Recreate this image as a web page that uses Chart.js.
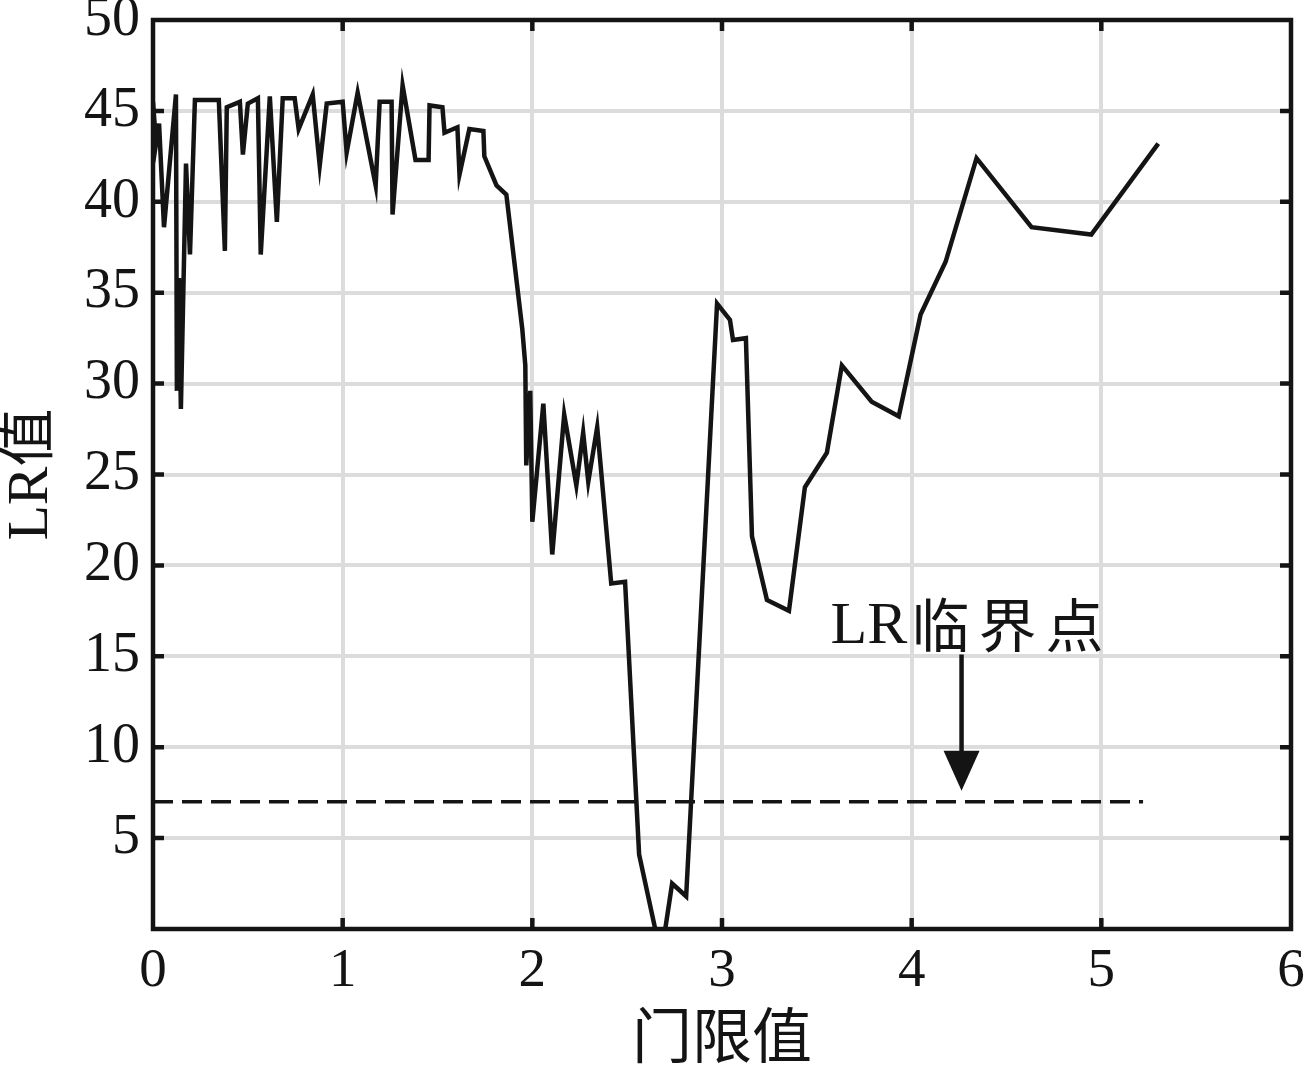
<!DOCTYPE html>
<html><head><meta charset="utf-8">
<script src="https://cdn.jsdelivr.net/npm/chart.js@4.4.1/dist/chart.umd.min.js"></script>
<style>html,body{margin:0;padding:0;background:#fff;}</style>
</head><body>
<canvas id="c" width="1310" height="1065"></canvas>
<script>
// threshold (门限值) values
const thresholds = [0.000,0.016,0.032,0.058,0.121,0.126,0.137,0.147,0.174,0.195,0.221,0.347,0.379,0.389,0.458,0.474,0.500,0.553,0.568,0.616,0.653,0.684,0.747,0.768,0.842,0.879,0.916,1.000,1.021,1.079,1.174,1.195,1.258,1.263,1.316,1.384,1.453,1.458,1.526,1.537,1.605,1.616,1.668,1.742,1.747,1.811,1.863,1.947,1.963,1.968,1.989,2.000,2.058,2.105,2.168,2.232,2.268,2.295,2.342,2.416,2.489,2.563,2.679,2.737,2.811,2.974,3.042,3.058,3.126,3.158,3.237,3.353,3.437,3.553,3.632,3.789,3.932,4.047,4.179,4.342,4.632,4.947,5.300];
// LR values
const lrValues = [45.5,43.2,44.3,38.6,45.9,29.6,35.8,28.6,42.1,37.1,45.6,45.6,37.3,45.2,45.5,42.6,45.4,45.7,37.1,45.8,38.9,45.7,45.7,44.0,45.9,42.0,45.4,45.5,42.7,46.0,40.9,45.5,45.5,39.3,46.4,42.3,42.3,45.3,45.2,43.8,44.1,41.5,44.0,43.9,42.5,40.9,40.4,33.0,31.0,25.5,29.6,22.4,28.9,20.6,28.3,24.4,27.3,24.6,27.6,19.0,19.1,4.1,-1.5,2.5,1.8,34.4,33.5,32.4,32.5,21.6,18.1,17.5,24.3,26.2,31.0,29.0,28.2,33.8,36.7,42.4,38.6,38.2,43.2];
// LR critical level (dashed line)
const criticalX = [0, 5.22];
const criticalLevel = [7, 7];
// tick labels
const xTicks = [0,1,2,3,4,5,6];
const yTicks = [0,5,10,15,20,25,30,35,40,45,50];
const xTitle = '门限值';
const yTitle = 'LR值';
const annotationLatin = 'LR';
const annotationCJK = ['临','界','点'];
const annotationAtX = 4.263;

const INK = '#141414';

const framePlugin = {
  id: 'frame',
  afterDraw(chart) {
    const {ctx, chartArea: a, scales} = chart;
    ctx.save();
    ctx.strokeStyle = INK;
    ctx.lineWidth = 4.5;
    const tl = 11;
    ctx.beginPath();
    xTicks.forEach(v => {
      if (v === xTicks[0] || v === xTicks[xTicks.length-1]) return;
      const px = scales.x.getPixelForValue(v);
      ctx.moveTo(px, a.bottom); ctx.lineTo(px, a.bottom - tl);
      ctx.moveTo(px, a.top); ctx.lineTo(px, a.top + tl);
    });
    yTicks.forEach(v => {
      if (v === yTicks[0] || v === yTicks[yTicks.length-1]) return;
      const py = scales.y.getPixelForValue(v);
      ctx.moveTo(a.left, py); ctx.lineTo(a.left + tl, py);
      ctx.moveTo(a.right, py); ctx.lineTo(a.right - tl, py);
    });
    ctx.stroke();
    ctx.strokeRect(a.left, a.top, a.right - a.left, a.bottom - a.top);
    ctx.restore();
  }
};

const annotationPlugin = {
  id: 'lrAnnotation',
  afterDatasetsDraw(chart) {
    const {ctx, scales} = chart;
    const ax = scales.x.getPixelForValue(annotationAtX);
    const yTop = scales.y.getPixelForValue(15.1);
    const yBase = scales.y.getPixelForValue(9.8);
    const yTip = scales.y.getPixelForValue(7.6);
    ctx.save();
    ctx.strokeStyle = INK; ctx.fillStyle = INK;
    ctx.lineWidth = 4.5;
    ctx.beginPath(); ctx.moveTo(ax, yTop); ctx.lineTo(ax, yBase + 2); ctx.stroke();
    ctx.beginPath();
    ctx.moveTo(ax - 18, yBase); ctx.lineTo(ax + 18, yBase); ctx.lineTo(ax, yTip); ctx.closePath();
    ctx.fill();
    const baseY = yTop - 11;
    ctx.textBaseline = 'alphabetic';
    ctx.textAlign = 'left';
    ctx.font = '60px "Liberation Serif"';
    ctx.fillText(annotationLatin, ax - 131, baseY);
    ctx.font = '58px "Noto Sans CJK SC"';
    annotationCJK.forEach((ch, i) => ctx.fillText(ch, ax - 50 + i * 67, baseY + 4));
    ctx.restore();
  }
};

new Chart(document.getElementById('c'), {
  type: 'line',
  data: {
    datasets: [
      {
        data: thresholds.map((x, i) => ({x, y: lrValues[i]})),
        borderColor: INK, borderWidth: 4.5, pointRadius: 0, tension: 0, clip: 0,
        borderJoinStyle: 'miter', fill: false
      },
      {
        data: criticalX.map((x, i) => ({x, y: criticalLevel[i]})),
        borderColor: INK, borderWidth: 3.5, borderDash: [20, 9], pointRadius: 0, fill: false
      }
    ]
  },
  options: {
    responsive: false, animation: false, devicePixelRatio: 1,
    layout: {padding: {top: 20, right: 19, left: 0, bottom: 0}},
    plugins: {legend: {display: false}, tooltip: {enabled: false}},
    scales: {
      x: {
        type: 'linear', min: 0, max: 6,
        afterBuildTicks: s => { s.ticks = xTicks.map(v => ({value: v})); },
        grid: {color: '#dcdcdc', lineWidth: 4, drawTicks: false},
        border: {display: false},
        ticks: {font: {family: '"Liberation Serif"', size: 55, lineHeight: 1.2}, color: INK, padding: 10, maxRotation: 0, autoSkip: false},
        title: {display: true, text: xTitle, color: INK, font: {family: '"Noto Sans CJK SC"', size: 60, lineHeight: 1}, padding: {top: 0, bottom: 0}},
        afterFit: s => { s.height = 136; s.paddingLeft = 0; s.paddingRight = 0; }
      },
      y: {
        type: 'linear', min: 0, max: 50,
        afterBuildTicks: s => { s.ticks = yTicks.map(v => ({value: v})); },
        grid: {color: '#dcdcdc', lineWidth: 4, drawTicks: false},
        border: {display: false},
        ticks: {font: {family: '"Liberation Serif"', size: 56, lineHeight: 1}, color: INK, padding: 13, autoSkip: false,
          callback: v => (v === 0 ? '' : String(v))},
        title: {display: true, text: yTitle, color: INK, font: {family: '"Liberation Serif", "Noto Sans CJK SC"', size: 58, lineHeight: 1.1}, padding: {top: 0, bottom: 0}},
        afterFit: s => { s.width = 153; s.paddingTop = 0; s.paddingBottom = 0; }
      }
    }
  },
  plugins: [framePlugin, annotationPlugin]
});
</script>
</body></html>
